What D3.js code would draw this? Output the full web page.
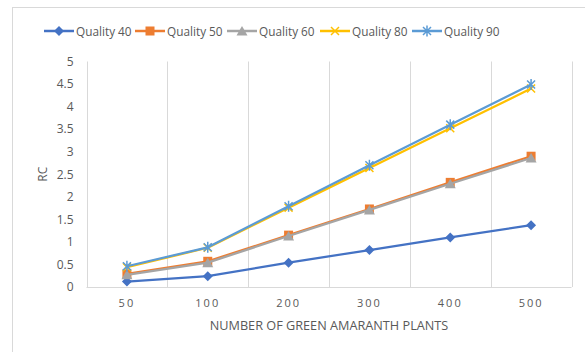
<!DOCTYPE html>
<html>
<head>
<meta charset="utf-8">
<script src="https://cdn.jsdelivr.net/npm/d3@7"></script>
<style>
  html, body { margin: 0; padding: 0; background: #fff; }
  svg { display: block; font-family: "Open Sans", "Liberation Sans", sans-serif; }
</style>
</head>
<body>
<svg id="chart" width="585" height="352"></svg>
<script>
// Plant counts on the x axis
const categories = ["50", "100", "200", "300", "400", "500"];
// RC values per quality level
const quality40 = [0.12, 0.24, 0.54, 0.82, 1.10, 1.37];
const quality50 = [0.29, 0.57, 1.15, 1.73, 2.32, 2.90];
const quality60 = [0.27, 0.54, 1.13, 1.71, 2.29, 2.86];
const quality80 = [0.44, 0.87, 1.76, 2.64, 3.52, 4.40];
const quality90 = [0.46, 0.88, 1.79, 2.70, 3.60, 4.49];
const yTicks = [0, 0.5, 1, 1.5, 2, 2.5, 3, 3.5, 4, 4.5, 5];

const series = [
  { name: "Quality 40", values: quality40, color: "#4472C4", marker: "diamond" },
  { name: "Quality 50", values: quality50, color: "#ED7D31", marker: "square" },
  { name: "Quality 60", values: quality60, color: "#A5A5A5", marker: "triangle" },
  { name: "Quality 80", values: quality80, color: "#FFC000", marker: "cross" },
  { name: "Quality 90", values: quality90, color: "#5B9BD5", marker: "star" }
];

const svg = d3.select("#chart");
const plot = { left: 86.5, right: 571.5, top: 61.5, bottom: 287 };

// chart frame
svg.append("rect")
  .attr("x", 12.5).attr("y", 7.5)
  .attr("width", 620).attr("height", 400)
  .attr("fill", "none").attr("stroke", "#d9d9d9");

const x = d3.scaleBand().domain(categories).range([plot.left, plot.right]).padding(0);
const y = d3.scaleLinear().domain([0, 5]).range([plot.bottom, plot.top]);

// vertical gridlines at category boundaries
const bounds = categories.map(c => x(c)).concat([x(categories[categories.length - 1]) + x.bandwidth()]);
svg.append("g").selectAll("line").data(bounds).join("line")
  .attr("x1", d => Math.round(d) + 0.5).attr("x2", d => Math.round(d) + 0.5)
  .attr("y1", plot.top).attr("y2", plot.bottom)
  .attr("stroke", "#d9d9d9").attr("stroke-width", 1);

// x axis line and labels
const xAxis = d3.axisBottom(x).tickSize(0).tickPadding(12);
const gx = svg.append("g").attr("transform", `translate(0,${plot.bottom})`).call(xAxis);
gx.select(".domain").attr("stroke", "#d9d9d9").attr("d", `M${plot.left},0.5H${plot.right}`);
gx.selectAll("text")
  .attr("fill", "#595959").attr("font-size", 11)
  .attr("letter-spacing", "2px")
  .attr("font-family", "'Open Sans', 'Liberation Sans', sans-serif");

// y axis labels
const yAxis = d3.axisLeft(y).tickValues(yTicks).tickSize(0).tickPadding(13)
  .tickFormat(d => String(d));
const gy = svg.append("g").attr("transform", `translate(${plot.left},0)`).call(yAxis);
gy.select(".domain").remove();
gy.selectAll("text")
  .attr("fill", "#595959").attr("font-size", 12)
  .attr("font-family", "'Open Sans', 'Liberation Sans', sans-serif");

// axis titles
svg.append("text")
  .attr("x", (plot.left + plot.right) / 2).attr("y", 330)
  .attr("text-anchor", "middle").attr("fill", "#595959").attr("font-size", 12.7)
  .text("NUMBER OF GREEN AMARANTH PLANTS");
svg.append("text")
  .attr("transform", `translate(47,${(plot.top + plot.bottom) / 2}) rotate(-90)`)
  .attr("text-anchor", "middle").attr("fill", "#595959").attr("font-size", 12)
  .text("RC");

function drawMarker(g, type, color) {
  if (type === "diamond") {
    g.append("path").attr("d", "M0,-5L5,0L0,5L-5,0Z").attr("fill", color);
  } else if (type === "square") {
    g.append("rect").attr("x", -4.5).attr("y", -4.5).attr("width", 9).attr("height", 9).attr("fill", color);
  } else if (type === "triangle") {
    g.append("path").attr("d", "M0,-5L5.5,4.5L-5.5,4.5Z").attr("fill", color);
  } else if (type === "cross") {
    g.append("path").attr("d", "M-4,-4L4,4M-4,4L4,-4").attr("stroke", color).attr("stroke-width", 1.5);
  } else if (type === "star") {
    g.append("path").attr("d", "M-4,-4L4,4M-4,4L4,-4M0,-5.5L0,5.5").attr("stroke", color).attr("stroke-width", 1.5);
  }
}

const cx = c => x(c) + x.bandwidth() / 2;
const line = d3.line().x(d => cx(d.c)).y(d => y(d.v));

series.forEach(s => {
  const pts = categories.map((c, i) => ({ c, v: s.values[i] }));
  const g = svg.append("g");
  g.append("path").datum(pts)
    .attr("d", line).attr("fill", "none")
    .attr("stroke", s.color).attr("stroke-width", 2.25)
    .attr("stroke-linejoin", "round");
  pts.forEach(p => {
    const m = g.append("g").attr("transform", `translate(${cx(p.c)},${y(p.v)})`);
    drawMarker(m, s.marker, s.color);
  });
});

// legend
const legendX = [44, 135, 227, 320, 412];
const legend = svg.append("g");
series.forEach((s, i) => {
  const g = legend.append("g").attr("transform", `translate(${legendX[i]},31)`);
  g.append("line").attr("x1", 0).attr("x2", 30).attr("y1", 0).attr("y2", 0)
    .attr("stroke", s.color).attr("stroke-width", 2.5);
  const m = g.append("g").attr("transform", "translate(15,0)");
  drawMarker(m, s.marker, s.color);
  g.append("text").attr("x", 32).attr("y", 4.5)
    .attr("fill", "#595959").attr("font-size", 11.8).text(s.name);
});
</script>
</body>
</html>
